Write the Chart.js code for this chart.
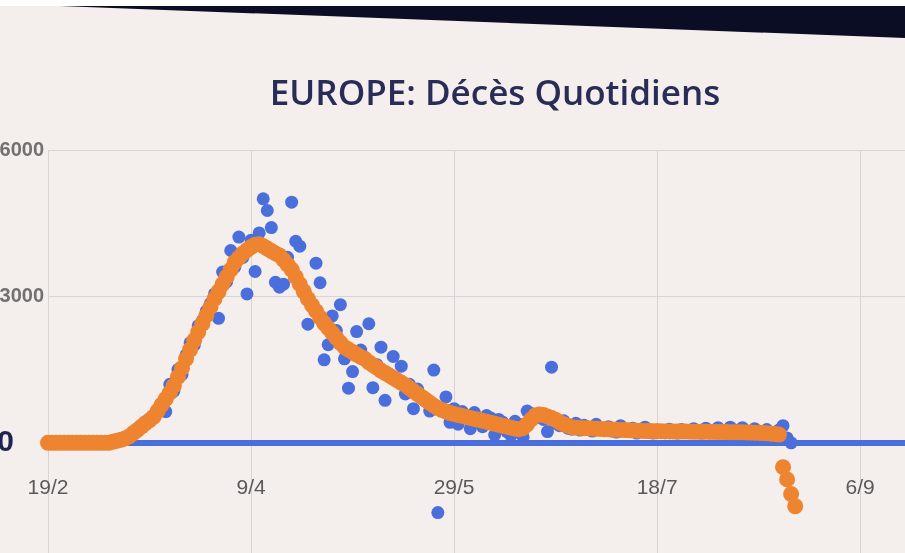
<!DOCTYPE html>
<html>
<head>
<meta charset="utf-8">
<script src="https://cdn.jsdelivr.net/npm/chart.js@4.4.1/dist/chart.umd.min.js"></script>
<style>
    html, body { margin: 0; padding: 0; overflow: hidden; background: #ffffff; }
    #page { position: absolute; left: 0; top: 6px; width: 905px; height: 547px; background: #f4efed; }
    #wedge { position: absolute; left: 0; top: 6px; width: 905px; height: 34px; background: #0b0d24;
             clip-path: polygon(60px 0, 905px 0, 905px 32px); }
    #box { position: absolute; left: 0; top: 0; width: 990px; height: 553px; }
</style>
</head>
<body>
<div id="page"></div>
<div id="wedge"></div>
<div id="box"><canvas id="chart"></canvas></div>
<script>
// jours depuis le 19/2
const xTicks = [0, 50, 100, 150, 200];
const xTickLabels = ["19/2", "9/4", "29/5", "18/7", "6/9"];
const yTicks = [0, 3000, 6000];

// décès quotidiens (points bleus)
const dailyDeaths = [
    0, 0, 0, 0, 0, 0, 0, 0, 0, 0,
    0, 0, 5, 10, 15, 20, 30, 50, 70, 110,
    150, 200, 250, 320, 420, 470, 560, 680, 790, 640,
    1200, 1060, 1500, 1400, 1800, 2050, 2000, 2400, 2500, 2700,
    2850, 3050, 2550, 3500, 3300, 3940, 3600, 4215, 3800, 3050,
    4150, 3510, 4300, 5000, 4760, 4410, 3290, 3190, 3250, 3800,
    4930, 4130, 4030, 3110, 2430, 2790, 3680, 3280, 1700, 2010,
    2600, 2300, 2830, 1720, 1120, 1460, 2280, 1900, 1700, 2440,
    1130, 1600, 1960, 870, 1400, 1770, 1300, 1570, 1000, 1200,
    700, 1100, 950, 850, 650, 1490, -1430, 700, 940, 420,
    700, 380, 640, 560, 290, 620, 450, 330, 560, 510,
    160, 480, 420, 230, 150, 440, 380, 120, 650, 600,
    560, 520, 480, 230, 1550, 400, 350, 450, 300, 280,
    400, 260, 360, 300, 240, 380, 290, 260, 330, 240,
    220, 350, 270, 230, 300, 200, 250, 320, 220, 200,
    260, 230, 210, 280, 240, 200, 270, 230, 210, 290,
    220, 200, 300, 240, 210, 310, 230, 200, 320, 260,
    210, 310, 240, 200, 290, 230, 210, 270, 200, 190,
    260, 350, 100, 0
];

// moyenne sur 7 jours (points orange)
const avg7 = [
    0, 0, 0, 0, 0, 0, 0, 0, 0, 0,
    0, 0, 0, 0, 0, 0, 20, 40, 60, 90,
    130, 200, 260, 330, 400, 460, 530, 650, 780, 900,
    1030, 1170, 1350, 1530, 1720, 1910, 2100, 2270, 2440, 2610,
    2780, 2950, 3100, 3250, 3400, 3550, 3700, 3790, 3880, 3950,
    4010, 4060, 4070, 4030, 3980, 3930, 3880, 3840, 3750, 3650,
    3550, 3400, 3250, 3100, 2950, 2820, 2700, 2570, 2450, 2350,
    2250, 2150, 2050, 1960, 1910, 1860, 1810, 1760, 1720, 1650,
    1590, 1540, 1480, 1430, 1380, 1330, 1280, 1230, 1180, 1120,
    1060, 1000, 940, 880, 820, 760, 710, 670, 640, 610,
    590, 570, 550, 530, 510, 490, 470, 450, 430, 410,
    390, 370, 350, 330, 310, 290, 280, 300, 380, 480,
    560, 580, 570, 540, 510, 470, 420, 380, 350, 320,
    310, 305, 300, 296, 292, 288, 284, 280, 276, 272,
    268, 264, 260, 256, 252, 248, 245, 242, 240, 238,
    236, 235, 234, 233, 232, 231, 230, 229, 228, 227,
    226, 225, 224, 223, 222, 221, 220, 219, 218, 217,
    216, 214, 212, 210, 207, 204, 200, 195, 188, 180,
    170, -500, -750, -1050, -1300
];

const gridGrey = "#d9d4d3";
const blueDot = "#4a6fdc";
const orangeDot = "#ee8430";
const axisFont = "'Liberation Sans', Arial, sans-serif";

const ctx = document.getElementById("chart").getContext("2d");
const chart = new Chart(ctx, {
    type: "scatter",
    data: {
        datasets: [
            {
                label: "Moyenne 7 jours",
                data: avg7.map((v, i) => ({ x: i, y: v })),
                backgroundColor: orangeDot,
                borderWidth: 0,
                pointRadius: 8,
                clip: false,
                order: 1
            },
            {
                label: "Décès quotidiens",
                data: dailyDeaths.map((v, i) => ({ x: i, y: v })),
                backgroundColor: blueDot,
                borderWidth: 0,
                pointRadius: 6.5,
                clip: false,
                order: 2
            }
        ]
    },
    options: {
        responsive: true,
        maintainAspectRatio: false,
        animation: false,
        layout: { padding: { left: 0, right: 0, top: 0, bottom: 27 } },
        plugins: {
            legend: { display: false },
            tooltip: { enabled: false },
            title: {
                display: true,
                text: "EUROPE: Décès Quotidiens",
                color: "#2a2c58",
                font: { family: "'Open Sans'", size: 35, weight: "600", lineHeight: 1.2 },
                padding: { top: 74, bottom: 34 }
            }
        },
        scales: {
            x: {
                type: "linear",
                min: 0,
                max: 230,
                afterBuildTicks: (axis) => { axis.ticks = xTicks.map(v => ({ value: v })); },
                afterFit: (axis) => { axis.height = 10; },
                border: { display: false },
                grid: { color: gridGrey, lineWidth: 1, tickLength: 40, drawTicks: true },
                ticks: {
                    mirror: true,
                    padding: 15,
                    maxRotation: 0,
                    color: "#5a5858",
                    font: { family: axisFont, size: 21 },
                    callback: (v) => xTickLabels[xTicks.indexOf(v)]
                }
            },
            y: {
                min: -1500,
                max: 6000,
                afterBuildTicks: (axis) => { axis.ticks = yTicks.map(v => ({ value: v })); },
                afterFit: (axis) => { axis.width = 48; },
                border: { display: false },
                grid: {
                    drawTicks: false,
                    color: (c) => c.tick && c.tick.value === 0 ? blueDot : gridGrey,
                    lineWidth: (c) => c.tick && c.tick.value === 0 ? 6 : 1
                },
                ticks: {
                    padding: 4,
                    color: (c) => c.tick && c.tick.value === 0 ? "#1f2350" : "#737070",
                    font: (c) => c.tick && c.tick.value === 0
                        ? { family: axisFont, size: 30, weight: "bold" }
                        : { family: axisFont, size: 20, weight: "bold" },
                    callback: (v) => v === 0 ? "0\u2002\u2002" : String(v)
                }
            }
        }
    }
});
</script>
</body>
</html>
